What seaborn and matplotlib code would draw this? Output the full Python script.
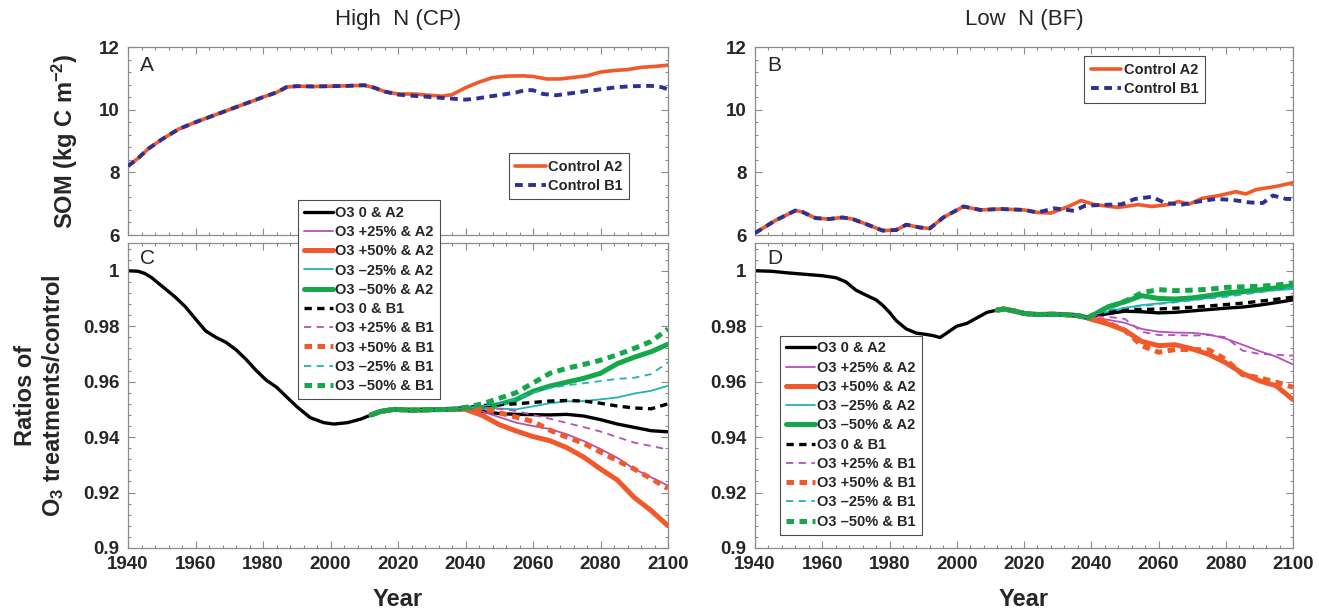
import numpy as np
import matplotlib
matplotlib.use("Agg")
import matplotlib.pyplot as plt
from matplotlib.lines import Line2D
from matplotlib.ticker import AutoMinorLocator, FuncFormatter, MultipleLocator
import seaborn as sns

# ---------------------------------------------------------------- data
# Panel A: soil organic matter, high N site (kg C m-2)
A_HIST_YEARS = [1940, 1943, 1946, 1950, 1955, 1960, 1965, 1970, 1975, 1980,
                1984, 1987, 1990, 1995, 2000, 2005, 2010, 2013, 2016]
A_HIST_SOM = [8.2, 8.45, 8.75, 9.05, 9.38, 9.6, 9.8, 10.0, 10.2, 10.4,
              10.55, 10.72, 10.75, 10.74, 10.75, 10.76, 10.78, 10.7, 10.58]
A_A2_YEARS = [2020, 2025, 2028, 2033, 2036, 2040, 2044, 2048, 2052, 2057,
              2060, 2064, 2068, 2072, 2076, 2080, 2084, 2088, 2092, 2096, 2100]
A_A2_SOM = [10.5, 10.5, 10.47, 10.43, 10.48, 10.7, 10.88, 11.02, 11.07, 11.08,
            11.06, 10.98, 10.98, 11.03, 11.08, 11.2, 11.25, 11.28, 11.35, 11.38, 11.42]
A_B1_YEARS = [2020, 2025, 2030, 2035, 2040, 2043, 2047, 2051, 2055, 2058,
              2060, 2063, 2067, 2071, 2075, 2080, 2085, 2090, 2095, 2098, 2100]
A_B1_SOM = [10.48, 10.44, 10.4, 10.36, 10.32, 10.35, 10.42, 10.48, 10.55, 10.63,
            10.62, 10.5, 10.46, 10.52, 10.58, 10.65, 10.72, 10.75, 10.76, 10.72, 10.65]

# Panel B: soil organic matter, low N site (kg C m-2)
B_HIST_YEARS = [1940, 1946, 1952, 1954, 1958, 1962, 1966, 1969, 1973, 1978,
                1982, 1985, 1989, 1992, 1996, 2002, 2007, 2013, 2020, 2024]
B_HIST_SOM = [6.06, 6.46, 6.78, 6.74, 6.54, 6.51, 6.56, 6.51, 6.35, 6.14,
              6.16, 6.33, 6.24, 6.21, 6.56, 6.91, 6.8, 6.83, 6.8, 6.72]
B_A2_YEARS = [2028, 2033, 2037, 2041, 2048, 2054, 2058, 2063, 2066, 2069,
              2073, 2078, 2083, 2086, 2089, 2095, 2100]
B_A2_SOM = [6.7, 6.9, 7.1, 6.97, 6.88, 6.97, 6.91, 6.97, 7.07, 6.98,
            7.17, 7.26, 7.38, 7.31, 7.45, 7.55, 7.67]
B_B1_YEARS = [2029, 2035, 2038, 2043, 2049, 2053, 2058, 2062, 2067, 2072,
              2077, 2082, 2087, 2091, 2094, 2098, 2100]
B_B1_SOM = [6.85, 6.77, 6.93, 6.96, 6.98, 7.15, 7.22, 7.02, 6.97, 7.07,
            7.15, 7.12, 7.04, 7.02, 7.26, 7.15, 7.15]

# Panel C: O3 treatment / control ratio, high N site
C_HIST_YEARS = [1940, 1943, 1945, 1947, 1950, 1954, 1957, 1960, 1963, 1966,
                1969, 1972, 1975, 1978, 1981, 1984, 1987, 1990, 1994, 1998,
                2001, 2005, 2009, 2012, 2015, 2019, 2024, 2030, 2036]
C_HIST = [1.0, 0.9998, 0.999, 0.9975, 0.9945, 0.9905, 0.987, 0.9826, 0.9783, 0.976,
          0.9742, 0.9715, 0.968, 0.964, 0.9605, 0.958, 0.9545, 0.951, 0.947, 0.9452,
          0.9447, 0.9452, 0.9465, 0.948, 0.9493, 0.950, 0.9497, 0.9499, 0.950]

# Panel D: O3 treatment / control ratio, low N site
D_HIST_YEARS = [1940, 1945, 1950, 1955, 1960, 1964, 1967, 1970, 1973, 1976,
                1978, 1980, 1982, 1985, 1988, 1991, 1993, 1995, 1997, 2000,
                2003, 2006, 2009, 2012, 2014, 2017, 2020, 2024, 2028, 2032,
                2036, 2039]
D_HIST = [1.0, 0.9998, 0.9992, 0.9987, 0.9982, 0.9975, 0.996, 0.993, 0.9912, 0.9895,
          0.9875, 0.985, 0.982, 0.979, 0.9775, 0.977, 0.9766, 0.9759, 0.9775, 0.980,
          0.981, 0.983, 0.985, 0.9858, 0.9862, 0.9855, 0.9846, 0.9842, 0.9843, 0.9842,
          0.9838, 0.983]

SCEN_YEARS = [2040, 2045, 2050, 2055, 2060, 2065, 2070, 2075, 2080, 2085, 2090, 2095, 2100]

TREATMENTS = ["O3 0 & A2", "O3 +25% & A2", "O3 +50% & A2", "O3 \u201325% & A2",
              "O3 \u201350% & A2", "O3 0 & B1", "O3 +25% & B1", "O3 +50% & B1",
              "O3 \u201325% & B1", "O3 \u201350% & B1"]

C_O3_0_A2 = [0.9503, 0.9492, 0.9485, 0.9482, 0.9481, 0.948, 0.9482, 0.9476, 0.9463, 0.9447, 0.9435, 0.9423, 0.9419]
C_O3_P25_A2 = [0.9503, 0.9492, 0.9472, 0.9452, 0.944, 0.9429, 0.941, 0.9386, 0.9357, 0.9325, 0.9285, 0.9255, 0.9225]
C_O3_P50_A2 = [0.950, 0.9478, 0.9445, 0.9422, 0.9402, 0.9387, 0.9362, 0.9328, 0.9285, 0.9245, 0.9182, 0.9135, 0.908]
C_O3_M25_A2 = [0.9505, 0.9506, 0.9503, 0.950, 0.9511, 0.9522, 0.9529, 0.953, 0.9536, 0.9543, 0.9557, 0.9567, 0.9585]
C_O3_M50_A2 = [0.9505, 0.9506, 0.9518, 0.9535, 0.9565, 0.9584, 0.9598, 0.9612, 0.963, 0.9665, 0.9688, 0.9708, 0.9735]
C_O3_0_B1 = [0.9505, 0.9514, 0.9517, 0.952, 0.9525, 0.953, 0.9532, 0.953, 0.9522, 0.9512, 0.9505, 0.9502, 0.952]
C_O3_P25_B1 = [0.9505, 0.9505, 0.9502, 0.9494, 0.948, 0.9466, 0.9451, 0.9436, 0.942, 0.940, 0.938, 0.9368, 0.9355]
C_O3_P50_B1 = [0.9505, 0.9503, 0.9488, 0.9472, 0.9456, 0.9425, 0.940, 0.9378, 0.9346, 0.9315, 0.9285, 0.925, 0.9215]
C_O3_M25_B1 = [0.9505, 0.9512, 0.952, 0.9538, 0.956, 0.9577, 0.9587, 0.9594, 0.9602, 0.961, 0.9614, 0.9627, 0.967]
C_O3_M50_B1 = [0.9507, 0.952, 0.954, 0.956, 0.9595, 0.963, 0.9648, 0.9662, 0.9677, 0.9697, 0.972, 0.9745, 0.979]

D_O3_0_A2 = [0.9836, 0.9845, 0.9854, 0.9852, 0.9848, 0.985, 0.9855, 0.986, 0.9865, 0.9869, 0.9876, 0.9885, 0.9895]
D_O3_P25_A2 = [0.9832, 0.9823, 0.9812, 0.979, 0.978, 0.9777, 0.9776, 0.977, 0.9755, 0.9733, 0.971, 0.969, 0.9662]
D_O3_P50_A2 = [0.9825, 0.9808, 0.9785, 0.9745, 0.973, 0.9733, 0.9718, 0.9698, 0.9668, 0.963, 0.9603, 0.9585, 0.9535]
D_O3_M25_A2 = [0.9836, 0.9852, 0.9866, 0.9876, 0.9882, 0.9888, 0.9895, 0.9903, 0.991, 0.9918, 0.9926, 0.993, 0.9934]
D_O3_M50_A2 = [0.9836, 0.987, 0.9888, 0.991, 0.990, 0.9898, 0.9902, 0.991, 0.992, 0.9925, 0.9931, 0.9938, 0.9946]
D_O3_0_B1 = [0.9838, 0.9852, 0.9858, 0.986, 0.9862, 0.9865, 0.9868, 0.9873, 0.9878, 0.9883, 0.989, 0.9897, 0.9905]
D_O3_P25_B1 = [0.9835, 0.9834, 0.9826, 0.978, 0.9768, 0.9768, 0.9766, 0.9768, 0.976, 0.9712, 0.970, 0.9697, 0.9694]
D_O3_P50_B1 = [0.9836, 0.9812, 0.9785, 0.973, 0.9706, 0.9716, 0.9716, 0.9714, 0.968, 0.9625, 0.9614, 0.9598, 0.958]
D_O3_M25_B1 = [0.9838, 0.9858, 0.9866, 0.9872, 0.988, 0.9886, 0.9893, 0.990, 0.9906, 0.9914, 0.9922, 0.993, 0.994]
D_O3_M50_B1 = [0.9838, 0.9868, 0.989, 0.992, 0.9932, 0.9928, 0.993, 0.9933, 0.994, 0.9942, 0.9944, 0.9948, 0.9956]

C_SERIES = [C_O3_0_A2, C_O3_P25_A2, C_O3_P50_A2, C_O3_M25_A2, C_O3_M50_A2,
            C_O3_0_B1, C_O3_P25_B1, C_O3_P50_B1, C_O3_M25_B1, C_O3_M50_B1]
D_SERIES = [D_O3_0_A2, D_O3_P25_A2, D_O3_P50_A2, D_O3_M25_A2, D_O3_M50_A2,
            D_O3_0_B1, D_O3_P25_B1, D_O3_P50_B1, D_O3_M25_B1, D_O3_M50_B1]

# ---------------------------------------------------------------- styles
ORANGE = "#f1592a"
NAVY = "#2e3192"
MAGENTA = "#b64fb8"
CYAN = "#20b2b6"
GREEN = "#14a84b"
BLACK = "#000000"

THIN, MID, THICK = 1.3, 2.4, 3.6
SOLID = "-"
DASH_THIN = (0, (4, 3))
DASH_MID = (0, (2.2, 1.6))
DASH_THICK = (0, (1.5, 1.1))
DASH_CONTROL = (0, (2.0, 1.4))

TREATMENT_STYLES = [
    dict(color=BLACK, lw=MID, ls=SOLID),
    dict(color=MAGENTA, lw=THIN, ls=SOLID),
    dict(color=ORANGE, lw=THICK, ls=SOLID),
    dict(color=CYAN, lw=THIN, ls=SOLID),
    dict(color=GREEN, lw=THICK, ls=SOLID),
    dict(color=BLACK, lw=MID, ls=DASH_MID),
    dict(color=MAGENTA, lw=THIN, ls=DASH_THIN),
    dict(color=ORANGE, lw=THICK, ls=DASH_THICK),
    dict(color=CYAN, lw=THIN, ls=DASH_THIN),
    dict(color=GREEN, lw=THICK, ls=DASH_THICK),
]

# ---------------------------------------------------------------- theme
sns.set_theme(style="ticks")
plt.rcParams.update({
    "font.family": ["Liberation Sans", "DejaVu Sans"],
    "font.weight": "bold",
    "axes.labelweight": "bold",
    "mathtext.fontset": "custom",
    "mathtext.rm": "Liberation Sans:bold",
    "mathtext.bf": "Liberation Sans:bold",
    "mathtext.default": "bf",
    "axes.edgecolor": "#8c8c8c",
    "axes.linewidth": 0.9,
})

W, H = 1319, 615
fig = plt.figure(figsize=(W / 100, H / 100), dpi=100)


def px_axes(left, top, right, bottom):
    return fig.add_axes([left / W, 1 - bottom / H, (right - left) / W, (bottom - top) / H])


ax_a = px_axes(128, 47, 668, 235)
ax_b = px_axes(755, 47, 1293, 235)
ax_c = px_axes(128, 243, 668, 548)
ax_d = px_axes(755, 243, 1293, 548)
ax_c.set_zorder(3)
ax_d.set_zorder(3)


def style_axis(ax, ylim, ymajor, show_x):
    ax.set_xlim(1940, 2100)
    ax.set_ylim(*ylim)
    ax.xaxis.set_major_locator(MultipleLocator(20))
    ax.xaxis.set_minor_locator(AutoMinorLocator(5))
    ax.yaxis.set_major_locator(MultipleLocator(ymajor))
    ax.yaxis.set_minor_locator(AutoMinorLocator(5))
    ax.yaxis.set_major_formatter(FuncFormatter(lambda v, _: f"{v:g}"))
    ax.tick_params(which="both", direction="in", top=True, right=True,
                   color="#8c8c8c", width=0.8, labelsize=13.5)
    ax.tick_params(axis="y", pad=6)
    ax.tick_params(axis="x", pad=6)
    ax.tick_params(which="major", length=5)
    ax.tick_params(which="minor", length=2.5)
    for spine in ax.spines.values():
        spine.set_visible(True)
    if not show_x:
        ax.tick_params(axis="x", labelbottom=False)
    else:
        ax.set_xlabel("Year", fontsize=17, fontweight="bold")
        ax.xaxis.set_label_coords(0.5, -0.13)


def draw(ax, x, y, color, lw, ls, z=2):
    sns.lineplot(x=x, y=y, ax=ax, color=color, linewidth=lw, linestyle=ls,
                 estimator=None, sort=False, zorder=z, legend=False)


# ---- panels A and B: control SOM
for ax, hy, hv, a2y, a2v, b1y, b1v in [
        (ax_a, A_HIST_YEARS, A_HIST_SOM, A_A2_YEARS, A_A2_SOM, A_B1_YEARS, A_B1_SOM),
        (ax_b, B_HIST_YEARS, B_HIST_SOM, B_A2_YEARS, B_A2_SOM, B_B1_YEARS, B_B1_SOM)]:
    draw(ax, hy + a2y, hv + a2v, ORANGE, 2.6, SOLID, 2)
    draw(ax, hy + b1y, hv + b1v, NAVY, 2.8, DASH_CONTROL, 3)
    style_axis(ax, (6, 12), 2, False)

control_handles = [Line2D([], [], color=ORANGE, lw=2.6, ls=SOLID),
                   Line2D([], [], color=NAVY, lw=2.8, ls=DASH_CONTROL)]
control_labels = ["Control A2", "Control B1"]
legend_kw = dict(frameon=True, fancybox=False, shadow=False, framealpha=1,
                 edgecolor="#4d4d4d", borderaxespad=0, handletextpad=0.15,
                 prop={"weight": "bold", "size": 10.5})
leg = ax_a.legend(control_handles, control_labels, loc="upper right",
                  bbox_to_anchor=(0.928, 0.435), handlelength=2.1,
                  labelspacing=0.35, borderpad=0.45, **legend_kw)
leg.get_frame().set_linewidth(0.8)
leg = ax_b.legend(control_handles, control_labels, loc="upper right",
                  bbox_to_anchor=(0.836, 0.95), handlelength=2.1,
                  labelspacing=0.35, borderpad=0.45, **legend_kw)
leg.get_frame().set_linewidth(0.8)

# ---- panels C and D: O3 treatment ratios
for ax, hy, hv, series in [(ax_c, C_HIST_YEARS, C_HIST, C_SERIES),
                           (ax_d, D_HIST_YEARS, D_HIST, D_SERIES)]:
    hy = np.array(hy)
    hv = np.array(hv)
    recent = hy >= 2010
    for i, (vals, st) in enumerate(zip(series, TREATMENT_STYLES)):
        if i == 0:
            xs = list(hy) + SCEN_YEARS
            ys = list(hv) + vals
        else:
            xs = list(hy[recent]) + SCEN_YEARS
            ys = list(hv[recent]) + vals
        draw(ax, xs, ys, st["color"], st["lw"], st["ls"], 2 + i * 0.1)
    style_axis(ax, (0.9, 1.01), 0.02, True)

treat_handles = [Line2D([], [], color=s["color"], lw=s["lw"], ls=s["ls"])
                 for s in TREATMENT_STYLES]
leg = ax_c.legend(treat_handles, TREATMENTS, loc="upper left",
                  bbox_to_anchor=(0.315, 1.141), handlelength=2.0,
                  labelspacing=0.36, borderpad=0.4, **legend_kw)
leg.get_frame().set_linewidth(0.8)
leg = ax_d.legend(treat_handles, TREATMENTS, loc="lower left",
                  bbox_to_anchor=(0.046, 0.044), handlelength=2.0,
                  labelspacing=0.36, borderpad=0.4, **legend_kw)
leg.get_frame().set_linewidth(0.8)

# ---- axis labels, panel letters, column titles
ax_a.set_ylabel("SOM (kg C m$^{-2}$)", fontsize=17, fontweight="bold")
ax_a.yaxis.set_label_coords(-0.088, 0.5)
ax_c.set_ylabel("Ratios of\nO$_3$ treatments/control", fontsize=17,
                fontweight="bold", linespacing=1.15)
ax_c.yaxis.set_label_coords(-0.115, 0.5)

for ax, letter, ypos in [(ax_a, "A", 0.9), (ax_b, "B", 0.9),
                         (ax_c, "C", 0.95), (ax_d, "D", 0.95)]:
    ax.text(0.022, ypos, letter, transform=ax.transAxes, fontsize=15,
            fontweight="normal", ha="left", va="center", zorder=10)

fig.text(398 / W, 1 - 20 / H, "High  N (CP)", fontsize=16, fontweight="normal",
         ha="center", va="center")
fig.text(1024 / W, 1 - 20 / H, "Low  N (BF)", fontsize=16, fontweight="normal",
         ha="center", va="center")

fig.savefig("out.png", dpi=100, facecolor="white")
